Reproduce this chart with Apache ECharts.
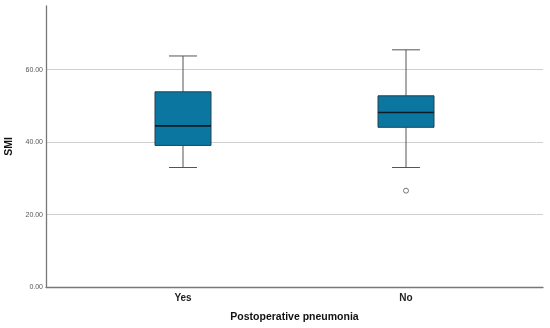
<!DOCTYPE html>
<html><head><meta charset="utf-8">
<script src="https://cdn.jsdelivr.net/npm/echarts@6/dist/echarts.min.js"></script>
<style>html,body{margin:0;padding:0;background:#fff}#c{width:550px;height:328px}</style>
</head><body><div id="c"></div>
<script>
const categories = ['Yes', 'No'];
// [whiskerLow, Q1, median, Q3, whiskerHigh]
const boxStats = [
  [33.0, 39.1, 44.5, 53.9, 63.8],
  [33.0, 44.1, 48.2, 52.8, 65.5]
];
const outliers = [['No', 26.6]];
const yTicks = [0, 20, 40, 60];
const yMax = 77.6;
const yTitle = 'SMI';
const xTitle = 'Postoperative pneumonia';

const font = 'Arial, "Liberation Sans", sans-serif';
const chart = echarts.init(document.getElementById('c'));
chart.setOption({
  animation: false,
  backgroundColor: '#fff',
  grid: [
    {left: 46, right: 7, top: 6, bottom: 41, outerBoundsMode: 'none', containLabel: false},
    {left: 71.5, width: 446, top: 6, bottom: 41, outerBoundsMode: 'none', containLabel: false}
  ],
  xAxis: [
    {gridIndex: 0, type: 'value', min: 0, max: 1, axisLine: {show: true, onZero: false, lineStyle: {color: '#777', width: 1.3}},
     axisTick: {show: false}, axisLabel: {show: false}, splitLine: {show: false},
     name: xTitle, nameLocation: 'middle', nameGap: 25,
     nameTextStyle: {fontFamily: font, fontSize: 10.5, fontWeight: 'bold', color: '#111'}},
    {gridIndex: 1, type: 'category', data: categories, axisLine: {show: false}, axisTick: {show: false},
     axisLabel: {margin: 6, fontFamily: font, fontSize: 10, fontWeight: 'bold', color: '#222'}}
  ],
  yAxis: [
    {gridIndex: 0, type: 'value', min: 0, max: yMax, interval: 20,
     axisLine: {show: true, lineStyle: {color: '#777', width: 1.3}}, axisTick: {show: false},
     axisLabel: {showMaxLabel: false, margin: 3, fontFamily: font, fontSize: 7, color: '#555',
       formatter: v => yTicks.includes(v) ? v.toFixed(2) : ''},
     splitLine: {show: true, showMinLine: false, showMaxLine: false, lineStyle: {color: '#cfcfcf', width: 1}},
     name: yTitle, nameLocation: 'middle', nameGap: 25,
     nameTextStyle: {fontFamily: font, fontSize: 10.5, fontWeight: 'bold', color: '#111'}},
    {gridIndex: 1, type: 'value', min: 0, max: yMax, show: false}
  ],
  series: [
    {
      type: 'custom', xAxisIndex: 1, yAxisIndex: 1,
      data: boxStats.map((s, i) => [i].concat(s)),
      renderItem: function (params, api) {
        const x = api.value(0);
        const lo = api.coord([x, api.value(1)]);
        const q1 = api.coord([x, api.value(2)]);
        const med = api.coord([x, api.value(3)]);
        const q3 = api.coord([x, api.value(4)]);
        const hi = api.coord([x, api.value(5)]);
        const bw = 56, cw = 28, cx = lo[0];
        const wStyle = {stroke: '#555', lineWidth: 1};
        return {type: 'group', children: [
          {type: 'line', shape: {x1: cx, y1: hi[1], x2: cx, y2: q3[1]}, style: wStyle},
          {type: 'line', shape: {x1: cx, y1: q1[1], x2: cx, y2: lo[1]}, style: wStyle},
          {type: 'line', shape: {x1: cx - cw/2, y1: hi[1], x2: cx + cw/2, y2: hi[1]}, style: wStyle},
          {type: 'line', shape: {x1: cx - cw/2, y1: lo[1], x2: cx + cw/2, y2: lo[1]}, style: wStyle},
          {type: 'rect', shape: {x: cx - bw/2, y: q3[1], width: bw, height: q1[1] - q3[1]},
           style: {fill: '#0b77a0', stroke: '#24414f', lineWidth: 1}},
          {type: 'line', shape: {x1: cx - bw/2, y1: med[1], x2: cx + bw/2, y2: med[1]},
           style: {stroke: '#0d1b22', lineWidth: 1.6}}
        ]};
      }
    },
    {
      type: 'scatter', xAxisIndex: 1, yAxisIndex: 1, data: outliers,
      symbol: 'circle', symbolSize: 5,
      itemStyle: {color: '#fff', borderColor: '#555', borderWidth: 1}
    }
  ]
});
</script></body></html>
